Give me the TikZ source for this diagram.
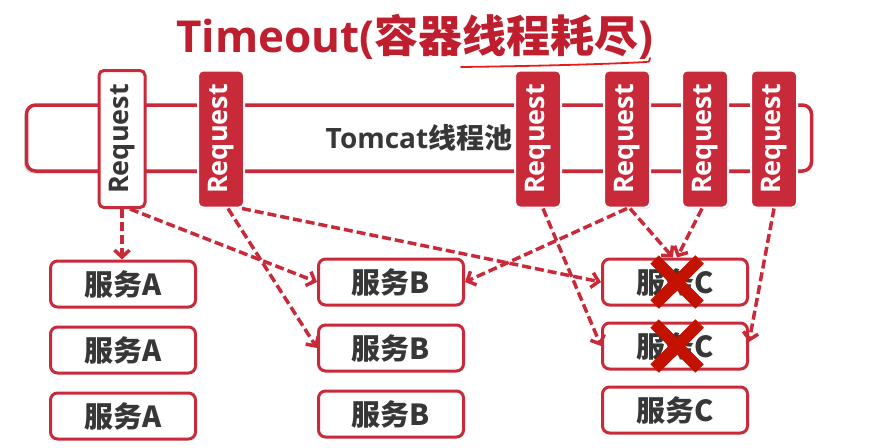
\documentclass[tikz,border=0pt]{standalone}
\usepackage{fontspec}
\setmainfont{Open Sans}
\newfontfamily\cjk{Noto Sans CJK SC}
\usetikzlibrary{arrows.meta,positioning,shapes.misc,shadows}
\definecolor{reqred}{RGB}{201,42,58}
\definecolor{titlered}{RGB}{190,30,45}
\definecolor{txtgray}{RGB}{55,55,55}
\definecolor{crossred}{RGB}{195,18,0}
\definecolor{penred}{RGB}{232,28,28}

\begin{document}
\begin{tikzpicture}[x=1pt, y=-1pt,
  pool/.style={draw=reqred, line width=3.5pt, fill=white, rounded corners=9pt,
               minimum width=785pt, minimum height=66pt, text=txtgray,
               font=\bfseries\fontsize{28}{28}\selectfont,
               drop shadow={shadow xshift=-2.5pt, shadow yshift=-2.5pt, opacity=0.35}},
  req/.style={fill=reqred, draw=white, line width=2pt, rounded corners=5pt,
              minimum width=46pt, minimum height=137pt, text=white,
              font=\bfseries\fontsize{27}{27}\selectfont,
              drop shadow={shadow xshift=1pt, shadow yshift=-1.5pt, opacity=0.25}},
  reqfree/.style={req, fill=white, draw=reqred, line width=3pt, text=txtgray},
  svc/.style={draw=reqred, line width=3pt, fill=white, rounded corners=7pt,
              minimum width=145pt, minimum height=46pt, text=txtgray,
              font=\cjk\bfseries\fontsize{29}{29}\selectfont},
  arr/.style={draw=reqred, line width=3.5pt, dash pattern=on 9pt off 4pt,
              -{Straight Barb[length=7pt, width=15pt]}},
  xmark/.style={cross out, draw=crossred, line width=12pt, minimum size=33pt, inner sep=0pt},
  node distance=17pt]
  \useasboundingbox (0,0) rectangle (869,447);

  % title with pen mark
  \node[text=titlered, font=\bfseries\fontsize{44}{44}\selectfont, anchor=base] (ttl) at (415,52)
    {Timeout({\cjk 容器线程耗尽})};
  \draw[penred, line width=1.8pt, line cap=round] (461,67) .. controls (540,66) and (610,64) .. (646,62) .. controls (649,62) .. (650,58);

  % thread pool and requests
  \node[pool] (pool) at (419,138) {Tomcat{\cjk 线程池}};
  \node[reqfree] (r1) at (122,139) {\rotatebox{90}{Request}};
  \node[req] (r2) at (221,139) {\rotatebox{90}{Request}};
  \foreach \n/\x in {3/538,4/627,5/705,6/774}
    \node[req] (r\n) at (\x,139) {\rotatebox{90}{Request}};

  % services
  \node[svc] (a1) at (123,284) {服务A};
  \node[svc, below=of a1] (a2) {服务A};
  \node[svc, below=of a2] (a3) {服务A};
  \node[svc] (b1) at (391,282) {服务B};
  \node[svc, below=of b1] (b2) {服务B};
  \node[svc, below=of b2] (b3) {服务B};
  \node[svc] (c1) at (675,282) {服务C};
  \node[svc, below=15pt of c1] (c2) {服务C};
  \node[svc, below=15pt of c2] (c3) {服务C};

  % calls
  \draw[arr] (r1.south) -- (r1.south |- a1.north);
  \draw[arr] ([xshift=8pt]r1.south) -- (b1.west);
  \draw[arr] ([xshift=7pt]r2.south) -- (b2.west);
  \draw[arr] ([xshift=-3pt]r2.south east) -- (c1.west);
  \draw[arr] ([xshift=5pt]r3.south) -- (c2.west);
  \draw[arr] (r4.south) -- (b1.east);
  \draw[arr] ([xshift=3pt]r4.south) -- ([xshift=-2pt]c1.north);
  \draw[arr] ([xshift=-3pt]r5.south) -- ([xshift=2pt]c1.north);
  \draw[arr] (r6.south) -- ([yshift=4pt]c2.east);

  % dead services
  \node[xmark] (x1) at ([xshift=2pt]c1.center) {};
  \node[xmark] (x2) at ([xshift=2pt]c2.center) {};
\end{tikzpicture}
\end{document}
